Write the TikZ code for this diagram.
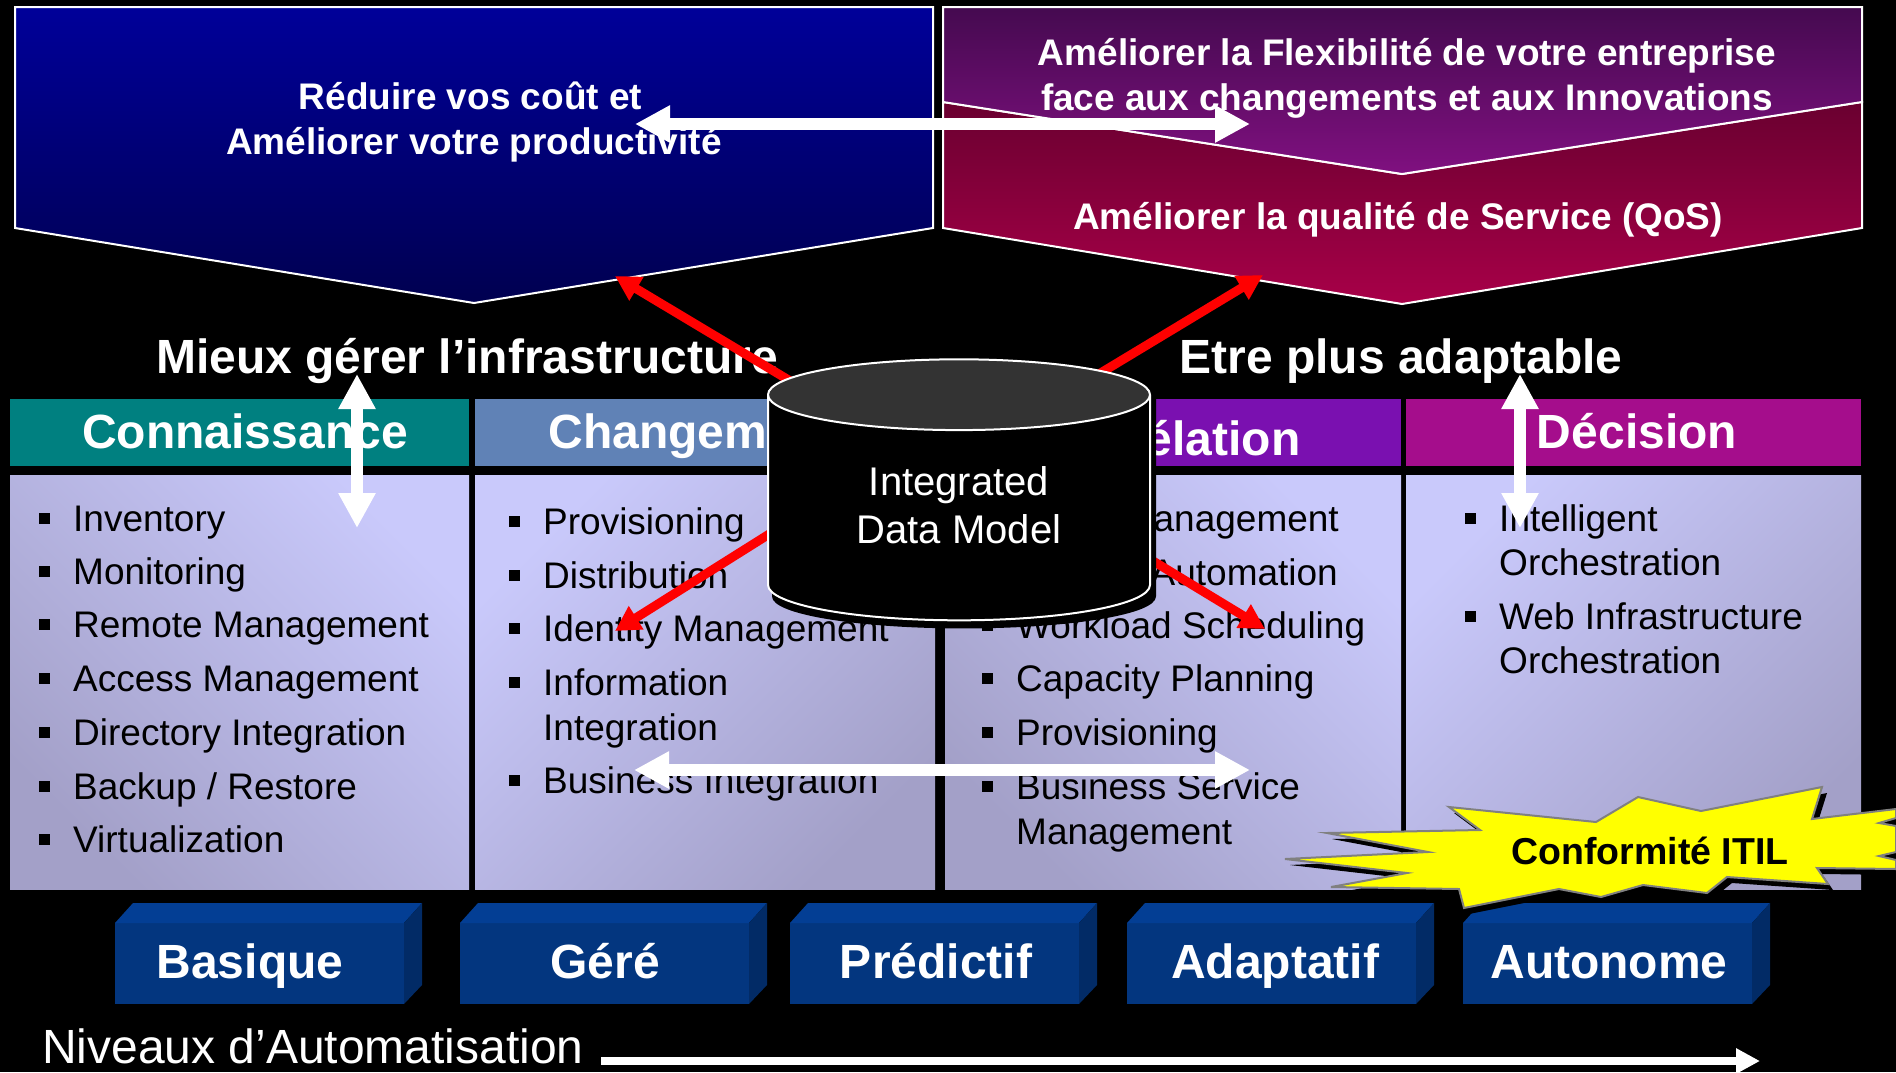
\documentclass[tikz,border=0pt]{standalone}
\usepackage{fontspec}
\setmainfont{Liberation Sans}
\usepackage{tikz}
\usetikzlibrary{arrows.meta,shapes.geometric}
\pgfdeclarelayer{top}
\pgfsetlayers{main,top}

\definecolor{panellight}{HTML}{C9C9FB}
\definecolor{paneldark}{HTML}{A3A0C8}
\definecolor{headteal}{HTML}{008080}
\definecolor{headsteel}{HTML}{6082B6}
\definecolor{headviolet}{HTML}{7A10B0}
\definecolor{headmagenta}{HTML}{A50D8C}
\definecolor{blockfront}{HTML}{03367F}
\definecolor{blocktop}{HTML}{033E94}
\definecolor{blockside}{HTML}{022B66}
\definecolor{bluetop}{HTML}{000099}
\definecolor{bluelow}{HTML}{000050}
\definecolor{purpletop}{HTML}{450A50}
\definecolor{purplelow}{HTML}{801080}
\definecolor{crimsontop}{HTML}{6A0030}
\definecolor{crimsonlow}{HTML}{A80048}
\definecolor{burstyellow}{HTML}{FFFF00}
\definecolor{arrowred}{HTML}{FF0000}
\definecolor{lidgray}{HTML}{333333}

\tikzset{
  goalbig/.style={text=white,align=center,font=\fontsize{37}{45}\bfseries\selectfont},
  headtext/.style={text=white,anchor=base,font=\fontsize{48}{58}\bfseries\selectfont},
  itemtext/.style={text=black,anchor=base west,inner sep=0pt,font=\fontsize{37}{45}\selectfont},
  goalfill/.style={draw=white,line width=2pt},
  panelleft/.style={top color=panellight,middle color=panellight,bottom color=paneldark,shading angle=-45},
  panelright/.style={top color=panellight,middle color=panellight,bottom color=paneldark,shading angle=45},
  whitearrow/.style={draw=white,line width=12pt,{Triangle[length=35pt,width=35pt]}-{Triangle[length=35pt,width=35pt]}},
  redarrow/.style={draw=arrowred,line width=9pt,-{Triangle[length=25pt,width=26pt]}},
  dbcyl/.style={cylinder,shape border rotate=90,aspect=0.346,minimum width=382pt,minimum height=261pt,inner sep=0pt,
                line width=2pt,align=center,font=\fontsize{40}{48}\selectfont},
}

\newcommand{\itemsq}{\llap{\raisebox{7pt}{\rule{11pt}{11pt}}\hspace{23pt}}}
\newcommand{\blockbox}[1]{
  \fill[blockfront] (#1,923) rectangle (#1+289,1004);
  \fill[blocktop] (#1,923) -- (#1+18,903) -- (#1+307,903) -- (#1+289,923) -- cycle;
  \fill[blockside] (#1+289,923) -- (#1+307,903) -- (#1+307,985) -- (#1+289,1004) -- cycle;
}
\newcommand{\burstpath}{
  (1449,807) -- (1596,822) -- (1638,797) -- (1701,811) -- (1822,787) -- (1812,819) -- (1896,809)
  -- (1896,818) -- (1879,823) -- (1896,826) -- (1896,852) -- (1879,856) -- (1896,860) -- (1896,869)
  -- (1817,868) -- (1828,884) -- (1727,877) -- (1707,893) -- (1643,885) -- (1601,897) -- (1559,889)
  -- (1464,908) -- (1459,889) -- (1331,887) -- (1407,873) -- (1285,859) -- (1428,852) -- (1327,833)
  -- (1480,830) -- cycle
}

\begin{document}
\begin{tikzpicture}[x=1pt,y=-1pt]
\clip (0,0) rectangle (1896,1072);
\fill[black] (0,0) rectangle (1896,1072);

% goals
\path[goalfill,top color=bluetop,bottom color=bluelow] (15,7) -- (933,7) -- (933,228) -- (474,303) -- (15,228) -- cycle;
\path[goalfill,top color=crimsontop,bottom color=crimsonlow] (943,102) -- (1402,174) -- (1862,102) -- (1862,228) -- (1402,304) -- (943,228) -- cycle;
\path[goalfill,top color=purpletop,bottom color=purplelow] (943,7) -- (1862,7) -- (1862,102) -- (1402,174) -- (943,102) -- cycle;
\node[goalbig] (reduire) at (474,122) {Réduire vos coût et\hspace*{7pt}\\Améliorer votre productivité};
\node[goalbig] (flexible) at (1407,78) {Améliorer la Flexibilité de votre entreprise\\face aux changements et aux Innovations};
\node[goalbig] (qualite) at (1398,220) {Améliorer la qualité de Service (QoS)};

\node[headtext] (infra) at (467,373) {Mieux gérer l’infrastructure};
\node[headtext] (adapt) at (1401,373) {Etre plus adaptable};

% columns
\fill[headteal] (10,399) rectangle (469,466);
\fill[headsteel] (475,399) rectangle (935,466);
\fill[headviolet] (945,399) rectangle (1401,466);
\fill[headmagenta] (1406,399) rectangle (1861,466);
\node[headtext] (connaissance) at (245,448) {Connaissance};
\node[headtext,anchor=base west] (changement) at (545,448) {Changement};
\node[headtext,anchor=base east] (correlation) at (1304,455) {Corrélation};
\node[headtext] (decision) at (1637,448) {Décision};

\path[panelleft] (10,475) rectangle (469,889);
\path[panelright] (475,475) rectangle (935,889);
\path[panelleft] (945,475) rectangle (1401,889);
\path[panelright] (1406,475) rectangle (1861,889);

% first column
\node[itemtext] (inventory) at (73,531) {\itemsq Inventory};
\node[itemtext] (monitoring) at (73,584) {\itemsq Monitoring};
\node[itemtext] (remote) at (73,637) {\itemsq Remote Management};
\node[itemtext] (access) at (73,691) {\itemsq Access Management};
\node[itemtext] (directory) at (73,745) {\itemsq Directory Integration};
\node[itemtext] (backup) at (73,799) {\itemsq Backup / Restore};
\node[itemtext] (virtual) at (73,852) {\itemsq Virtualization};
% second column
\node[itemtext] (provisiona) at (543,534) {\itemsq Provisioning};
\node[itemtext] (distribution) at (543,588) {\itemsq Distribution};
\node[itemtext] (identity) at (543,641) {\itemsq Identity Management};
\node[itemtext] (information) at (543,695) {\itemsq Information};
\node[itemtext] (integration) at (543,740) {Integration};
\node[itemtext] (business) at (543,793) {\itemsq Business Integration};
% third column
\node[itemtext,anchor=base east] (management) at (1339,531) {Management};
\node[itemtext,anchor=base east] (automation) at (1338,585) {Automation};
\node[itemtext] (workload) at (1016,638) {\itemsq Workload Scheduling};
\node[itemtext] (capacity) at (1016,691) {\itemsq Capacity Planning};
\node[itemtext] (provisionb) at (1016,745) {\itemsq Provisioning};
\node[itemtext] (service) at (1016,799) {\itemsq Business Service};
\node[itemtext] (servicemgt) at (1016,844) {Management};
% fourth column
\node[itemtext] (intelligent) at (1499,531) {\itemsq Intelligent};
\node[itemtext] (orchestra) at (1499,575) {Orchestration};
\node[itemtext] (webinfra) at (1499,629) {\itemsq Web Infrastructure};
\node[itemtext] (orchestrb) at (1499,673) {Orchestration};

% levels
\blockbox{115}
\blockbox{460}
\blockbox{790}
\blockbox{1127}
\blockbox{1463}
\node[headtext] (basique) at (250,978) {Basique};
\node[headtext] (gere) at (605,978) {Géré};
\node[headtext] (predictif) at (936,978) {Prédictif};
\node[headtext] (adaptatif) at (1275,978) {Adaptatif};
\node[headtext] (autonome) at (1609,978) {Autonome};
\node[headtext,font=\fontsize{48}{58}\selectfont,anchor=base west,inner sep=0pt] (niveaux) at (42,1063) {Niveaux d’Automatisation};
\coordinate (levelstart) at (601,1061);
\coordinate (levelend) at (1760,1061);
\draw[draw=white,line width=8pt,-{Triangle[length=24pt,width=24pt]}] (levelstart) -- (levelend);

% ITIL burst
\fill[black,shift={(5,6)}] \burstpath;
\draw[fill=burstyellow,draw=gray,line width=2pt] \burstpath;
\node[headtext,text=black,font=\fontsize{37.5}{46}\bfseries\selectfont] (itil) at (1650,864) {Conformité ITIL};

% data model
\begin{pgfonlayer}{top}
\node[dbcyl,draw=black,fill=black] (datashadow) at (964,513) {\phantom{Integrated}};
\node[dbcyl,draw=white,cylinder uses custom fill,cylinder end fill=lidgray,cylinder body fill=black,
      text=white] (datamodel) at (959,508) {Integrated\\Data Model\\[-41pt]\mbox{}};
\end{pgfonlayer}

% arrows
\coordinate (tipreduire) at (615,276);
\coordinate (tipqos) at (1263,275);
\coordinate (tipidentity) at (615,631);
\coordinate (tipworkload) at (1265,629);
\draw[redarrow] ([shift={(-157,-120)}]datamodel.center) -- (tipreduire);
\draw[redarrow] ([shift={(125,-125)}]datamodel.center) -- (tipqos);
\draw[redarrow] ([shift={(-169,13)}]datamodel.center) -- (tipidentity);
\draw[redarrow] ([shift={(171,39)}]datamodel.center) -- (tipworkload);

\coordinate (topleft) at (635,124);
\coordinate (topright) at (1250,124);
\coordinate (lowleft) at (634,770);
\coordinate (lowright) at (1250,770);
\coordinate (infratop) at (357,374);
\coordinate (infralow) at (357,528);
\coordinate (adapttop) at (1520,374);
\coordinate (adaptlow) at (1520,528);
\draw[whitearrow] (topleft) -- (topright);
\draw[whitearrow] (lowleft) -- (lowright);
\draw[whitearrow] (infratop) -- (infralow);
\draw[whitearrow] (adapttop) -- (adaptlow);
\end{tikzpicture}
\end{document}
